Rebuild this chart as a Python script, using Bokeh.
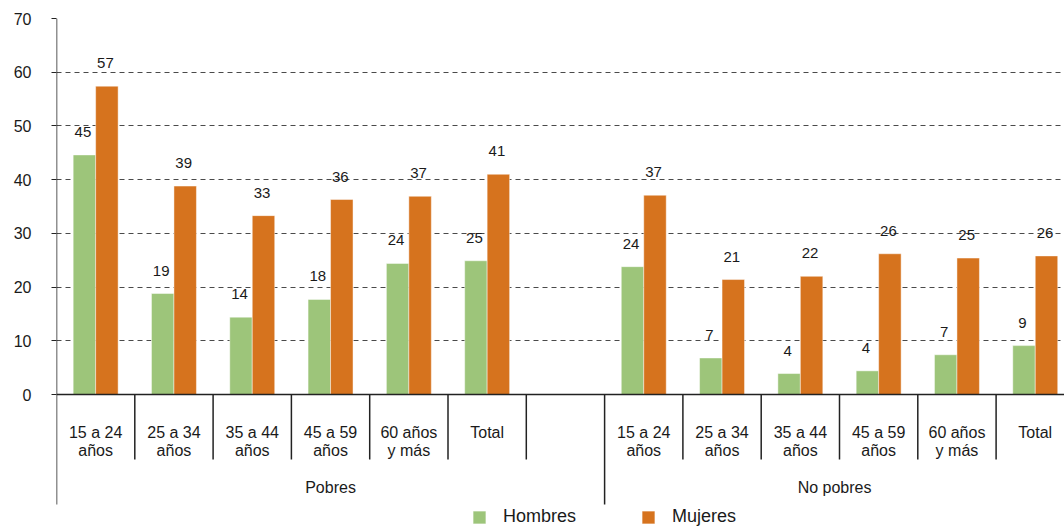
from bokeh.plotting import figure
from bokeh.models import Range1d, FixedTicker, Span, Legend, LegendItem, ColumnDataSource
from bokeh.core.properties import value
from bokeh.embed import file_html
from bokeh.resources import INLINE

# ---------------- data ----------------
groups = ["Pobres", "No pobres"]
categories = ["15 a 24\naños", "25 a 34\naños", "35 a 44\naños", "45 a 59\naños", "60 años\ny más", "Total"]
series = ["Hombres", "Mujeres"]
hombres_pobres = [44.6, 18.8, 14.4, 17.7, 24.4, 24.9]
mujeres_pobres = [57.4, 38.8, 33.3, 36.3, 36.9, 41.0]
hombres_no_pobres = [23.8, 6.8, 3.9, 4.4, 7.4, 9.1]
mujeres_no_pobres = [37.1, 21.4, 22.0, 26.2, 25.4, 25.8]
y_ticks = [0, 10, 20, 30, 40, 50, 60, 70]

# ---------------- layout / style ----------------
FONT = "Liberation Sans"
GREEN = "#9DC57A"
ORANGE = "#D6731E"
TXT = "#1a1a1a"
W, H = 1064, 527
SLOT_PX = 78.3
FRAME_LEFT, FRAME_RIGHT = 56, 1064
FRAME_TOP, FRAME_BOTTOM, ZERO_PX = 18, 527, 394
PX_PER_UNIT = (ZERO_PX - FRAME_TOP) / 70.0

def down(px):  # pixel distance below zero line -> data units
    return -px / PX_PER_UNIT

BAR_W = 0.287
GAP_SLOTS = 1  # empty slot between groups
X_END = (FRAME_RIGHT - FRAME_LEFT) / SLOT_PX

p = figure(width=W, height=H, output_backend="svg", toolbar_location=None,
           x_range=Range1d(0, X_END),
           y_range=Range1d(down(FRAME_BOTTOM - ZERO_PX), 70),
           x_axis_location=None, min_border_left=FRAME_LEFT, min_border_right=W - FRAME_RIGHT,
           min_border_top=FRAME_TOP, min_border_bottom=H - FRAME_BOTTOM)
p.outline_line_color = None
p.background_fill_color = "white"
p.border_fill_color = "white"

# group / slot positions
n = len(categories)
group_start = [g * (n + GAP_SLOTS) for g in range(len(groups))]
hombres_all = [hombres_pobres, hombres_no_pobres]
mujeres_all = [mujeres_pobres, mujeres_no_pobres]

xs, hv, mv = [], [], []
for g in range(len(groups)):
    for i in range(n):
        xs.append(group_start[g] + i + 0.5)
        hv.append(hombres_all[g][i])
        mv.append(mujeres_all[g][i])

src = ColumnDataSource(dict(
    xh=[x - BAR_W / 2 for x in xs], xm=[x + BAR_W / 2 for x in xs],
    h=hv, m=mv,
    hl=[f"{v:.0f}" for v in hv], ml=[f"{v:.0f}" for v in mv],
))

# grid
p.xgrid.visible = False
p.ygrid.ticker = FixedTicker(ticks=y_ticks[1:])
p.ygrid.grid_line_color = "#4a4a4a"
p.ygrid.grid_line_dash = "5 4"
p.ygrid.grid_line_width = 1

rh = p.vbar(x="xh", top="h", bottom=0, width=BAR_W, source=src, fill_color=GREEN,
            line_color="white", line_alpha=0.45, line_width=1)
rm = p.vbar(x="xm", top="m", bottom=0, width=BAR_W, source=src, fill_color=ORANGE,
            line_color="white", line_alpha=0.45, line_width=1)

# value labels
for xcol, ycol, lcol in (("xh", "h", "hl"), ("xm", "m", "ml")):
    p.text(x=xcol, y=ycol, text=lcol, source=src, text_align="center", text_baseline="middle",
           y_offset=-23, x_offset=-1.5, text_font=value(FONT), text_font_size="15px", text_color=TXT)

# baseline
p.add_layout(Span(location=0, dimension="width", line_color="#222222", line_width=1.5))

# y axis
ax = p.yaxis[0]
ax.ticker = FixedTicker(ticks=y_ticks)
ax.axis_line_color = None
ax.major_tick_out = 5
ax.major_tick_in = 0
ax.minor_tick_out = 0
ax.minor_tick_in = 0
ax.major_tick_line_color = "#222222"
ax.major_label_standoff = 20
ax.major_label_text_font = FONT
ax.major_label_text_font_size = "16px"
ax.major_label_text_color = TXT

# separators (category boundaries short, group boundaries long)
sx, sy1 = [], []
for g in range(len(groups)):
    sx.append(group_start[g]); sy1.append(down(110))
    for i in range(1, n + 1):
        sx.append(group_start[g] + i); sy1.append(down(65))
p.segment(x0=sx, y0=[0] * len(sx), x1=sx, y1=sy1, line_color="#222222", line_width=1.5)
# axis line above zero
p.segment(x0=[0], y0=[70], x1=[0], y1=[0], line_color="#222222", line_width=1.5)

# category labels
l1x, l1t, l2x, l2t = [], [], [], []
for g in range(len(groups)):
    for i, c in enumerate(categories):
        parts = c.split("\n")
        l1x.append(group_start[g] + i + 0.5); l1t.append(parts[0])
        if len(parts) > 1:
            l2x.append(group_start[g] + i + 0.5); l2t.append(parts[1])
p.text(x=l1x, y=[down(38)] * len(l1x), text=l1t, text_align="center", text_baseline="middle",
       text_font=value(FONT), text_font_size="16px", text_color=TXT)
p.text(x=l2x, y=[down(56)] * len(l2x), text=l2t, text_align="center", text_baseline="middle",
       text_font=value(FONT), text_font_size="16px", text_color=TXT)

# group labels: centred between the long separators (or the visible end)
bounds = group_start[1:] + [X_END]
gx = [(group_start[g] + bounds[g]) / 2 for g in range(len(groups))]
p.text(x=gx, y=[down(93)] * len(gx), text=groups, text_align="center", text_baseline="middle",
       text_font=value(FONT), text_font_size="16px", text_color=TXT)

# legend
legend = Legend(items=[LegendItem(label=series[0], renderers=[rh]),
                       LegendItem(label=series[1], renderers=[rm])],
                orientation="horizontal", location=(415, 0), padding=0, margin=0,
                border_line_color=None, background_fill_alpha=0,
                glyph_width=16, glyph_height=16, label_standoff=16, spacing=64,
                label_text_font=FONT, label_text_font_size="18px", label_text_color=TXT)
p.add_layout(legend, "center")

open("out.html", "w").write(file_html(p, INLINE))
